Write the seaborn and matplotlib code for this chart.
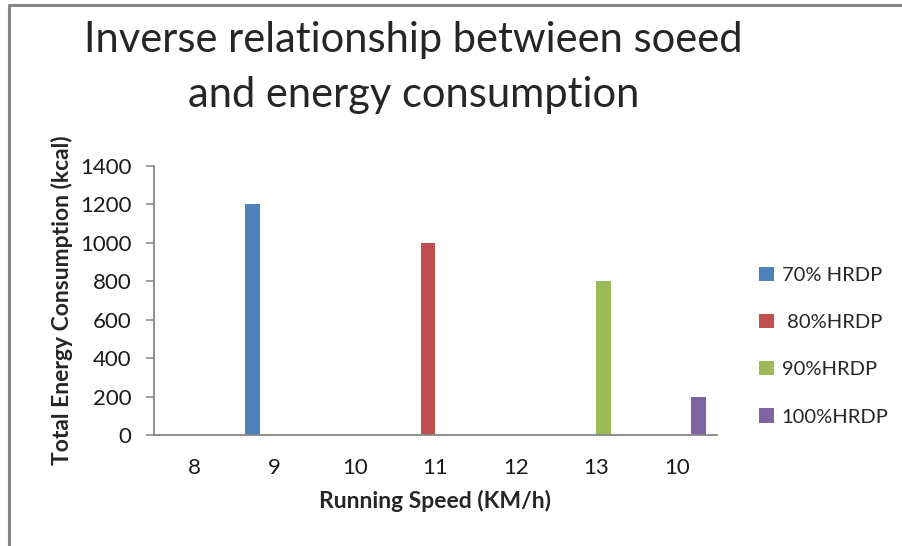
import pandas as pd
import matplotlib
matplotlib.use("Agg")
import matplotlib.pyplot as plt
from matplotlib.lines import Line2D
import seaborn as sns

# chart data
speeds = ["8", "9", "10", "11", "12", "13", "10"]
series_names = ["70% HRDP", " 80%HRDP", "90%HRDP", "100%HRDP"]
hrdp_70 = [0, 1200, 0, 0, 0, 0, 0]
hrdp_80 = [0, 0, 0, 1000, 0, 0, 0]
hrdp_90 = [0, 0, 0, 0, 0, 800, 0]
hrdp_100 = [0, 0, 0, 0, 0, 0, 200]
colors = ["#4F81BD", "#C0504D", "#9BBB59", "#8064A2"]

rows = []
for name, vals in zip(series_names, [hrdp_70, hrdp_80, hrdp_90, hrdp_100]):
    for pos, v in enumerate(vals):
        rows.append({"pos": pos, "series": name, "kcal": v})
df = pd.DataFrame(rows)

sns.set_style("white")
plt.rcParams["font.family"] = ["Lato", "DejaVu Sans"]

fig = plt.figure(figsize=(9.03, 5.46), dpi=100)
ax = fig.add_axes([0.1705, 0.2033, 0.794 - 0.1705, 0.696 - 0.2033])

sns.barplot(data=df, x="pos", y="kcal", hue="series", order=list(range(7)),
            hue_order=series_names, palette=colors, width=4 / 5.5,
            linewidth=0, saturation=1, ax=ax, errorbar=None)

ax.set_xlim(-0.5, 6.5)
ax.set_ylim(0, 1400)
ax.set_yticks(range(0, 1401, 200))
ax.set_xticks(range(7))
ax.set_xticklabels(speeds)

grey = "#868686"
for s in ["top", "right"]:
    ax.spines[s].set_visible(False)
for s in ["left", "bottom"]:
    ax.spines[s].set_color(grey)
    ax.spines[s].set_linewidth(1.3)
ax.tick_params(axis="y", which="both", left=True, length=6, width=1.1,
               color=grey, labelsize=16, pad=10, labelcolor="#1a1a1a")
ax.tick_params(axis="x", bottom=False, labelsize=16, pad=13, labelcolor="#1a1a1a")

ax.set_xlabel("Running Speed (KM/h)", fontsize=16.5, fontweight="bold", labelpad=9)
ax.set_ylabel("Total Energy Consumption (kcal)", fontsize=16.5, fontweight="bold", labelpad=5)

handles, labels = ax.get_legend_handles_labels()
ax.get_legend().remove()
fig.legend(handles, labels, loc="upper left", bbox_to_anchor=(0.821, 0.545),
           frameon=False, fontsize=14.5, handlelength=0.7, handleheight=0.7,
           handletextpad=0.4, labelspacing=1.5)

fig.text(0.458, 0.876, "Inverse relationship betwieen soeed\nand energy consumption",
         ha="center", va="center", fontsize=30, linespacing=1.55)

# outer chart frame (left and top edges visible)
fig.add_artist(Line2D([9.5 / 903, 9.5 / 903], [0, 1 - 4.5 / 546], color="#878787",
                      lw=2.2, transform=fig.transFigure))
fig.add_artist(Line2D([9.5 / 903, 1], [1 - 4.5 / 546, 1 - 4.5 / 546], color="#878787",
                      lw=2.2, transform=fig.transFigure))

fig.savefig("out.png", dpi=100)
